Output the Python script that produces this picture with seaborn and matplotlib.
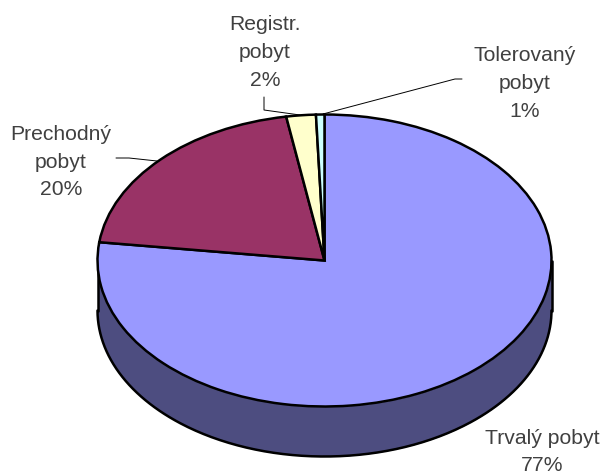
import numpy as np
import seaborn as sb
from matplotlib import pyplot as plt

# data
categories = ['Trvalý pobyt', 'Prechodný pobyt', 'Registr. pobyt', 'Tolerovaný pobyt']
shares = [77.0, 20.3, 2.1, 0.6]
slice_colors = ['#9999FF', '#993366', '#FFFFCC', '#CCFFFF']
label_texts = ['Trvalý pobyt\n77%', 'Prechodný\npobyt\n20%', 'Registr.\npobyt\n2%', 'Tolerovaný\npobyt\n1%']

W, H = 604, 477
CX, CY, RX, RY, DEPTH = 324.5, 261.5, 227, 146, 50
LW = 1.8


# picture pixels to data units, one unit is the pie radius on each axis
def to_data(x, y):
    return (x - CX) / RX, (CY - y) / RY


sb.set_theme(style='white')
plt.rcParams['font.family'] = ['Liberation Sans', 'DejaVu Sans']

fig = plt.figure(figsize=(W / 100, H / 100), dpi=100)
ax = fig.add_axes([0, 0, 1, 1])

# pie top
ax.pie(shares, colors=slice_colors, startangle=90, counterclock=False, radius=1,
       wedgeprops={'edgecolor': 'black', 'linewidth': LW, 'zorder': 3})

# the side wall, only the front half shows
theta = np.linspace(np.pi, 2 * np.pi, 300)
d = DEPTH / RY
ax.fill_between(np.cos(theta), np.sin(theta), np.sin(theta) - d, color='#4D4D80', zorder=1, linewidth=0)
ax.plot(np.cos(theta), np.sin(theta) - d, color='black', lw=LW, zorder=2)
ax.plot([-1, -1], [0, -d], color='black', lw=LW, zorder=2)
ax.plot([1, 1], [0, -d], color='black', lw=LW, zorder=2)

ax.set_aspect('auto')
ax.set_xlim(to_data(0, 0)[0], to_data(W, 0)[0])
ax.set_ylim(to_data(0, H)[1], to_data(0, 0)[1])
ax.axis('off')

# labels
label_pos = [(542, 452), (61, 162), (265, 52.5), (525, 83.5)]
for txt, (x, y) in zip(label_texts, label_pos):
    tx, ty = to_data(x, y)
    ax.text(tx, ty, txt, ha='center', va='center', fontsize=15.2, color='#404040', linespacing=1.58, zorder=5)

# leader lines
leaders = [
    [(116, 159), (129, 159), (157, 162)],
    [(264, 98), (264, 111), (300, 116)],
    [(323, 115), (455, 80), (462, 80)],
]
for pts in leaders:
    xy = np.array([to_data(x, y) for x, y in pts])
    ax.plot(xy[:, 0], xy[:, 1], color='black', lw=0.7, zorder=4)

fig.savefig('out.png', dpi=100)
